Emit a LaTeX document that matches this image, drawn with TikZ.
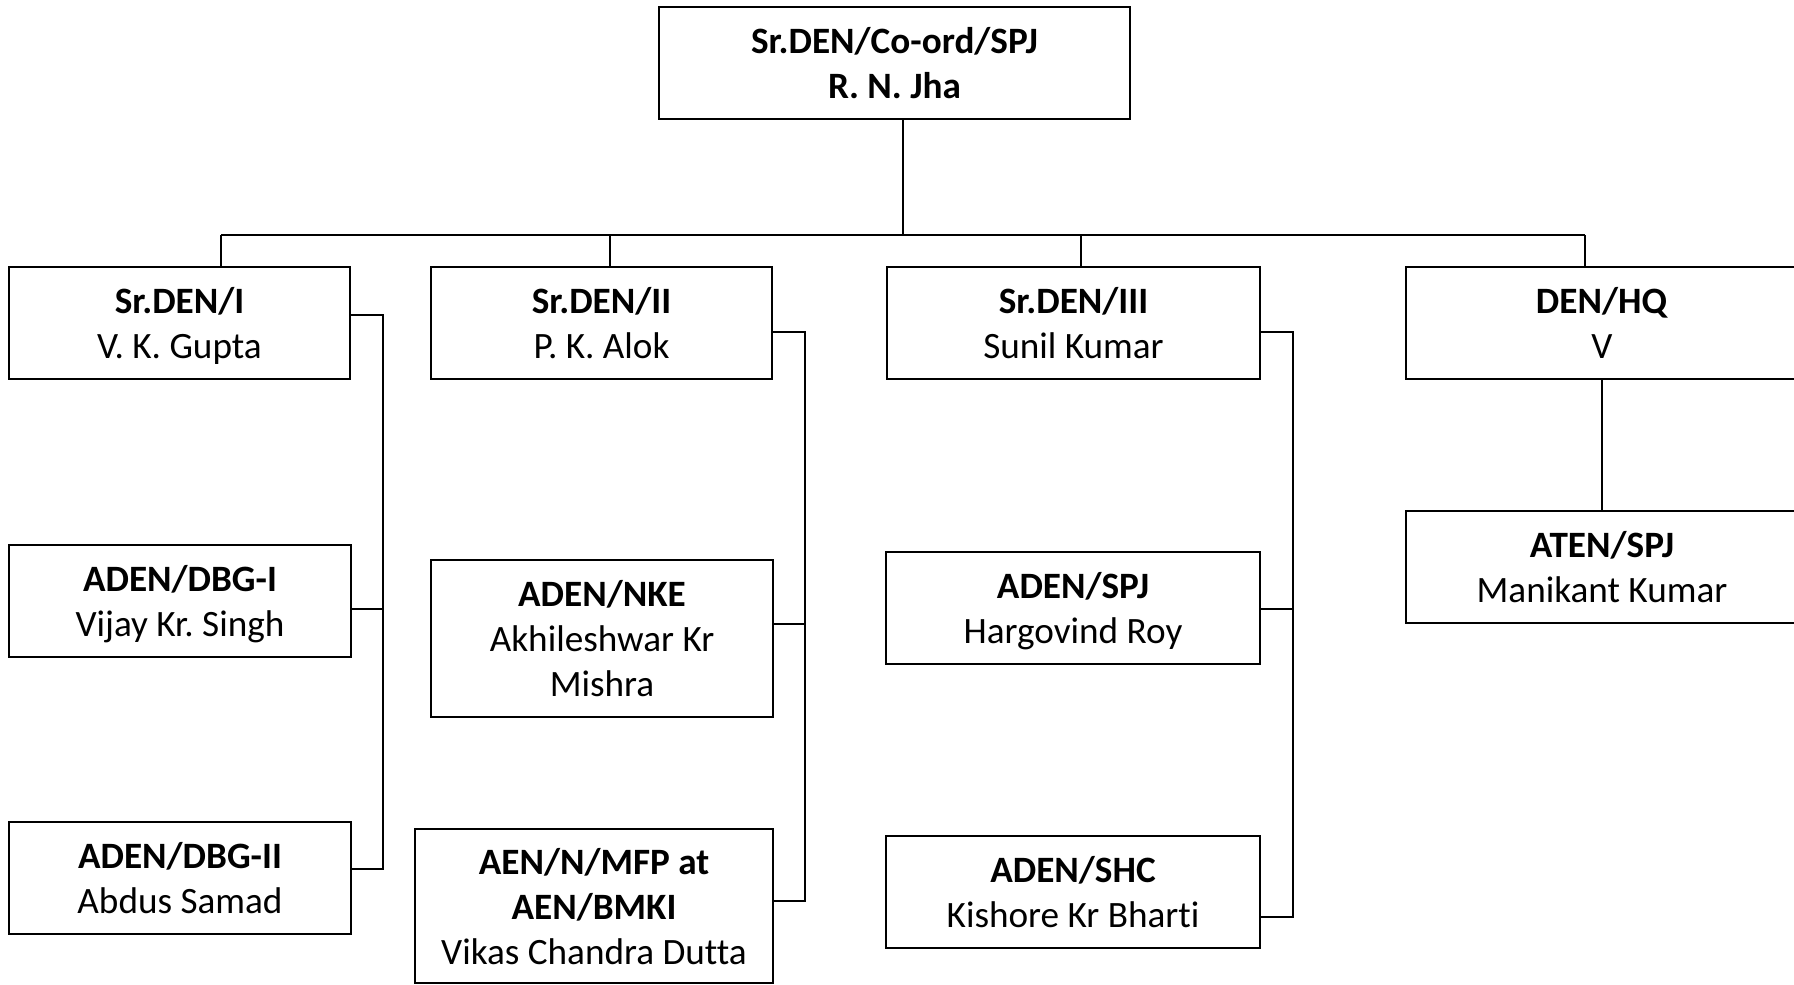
\documentclass[tikz,border=0pt]{standalone}
\usepackage{fontspec}
\setmainfont{Carlito}[Ligatures=NoCommon]
\tikzset{
  post/.style={draw=black, line width=1pt, fill=white, align=center,
    inner sep=0pt, text height=35.9pt, text depth=0pt,
    font=\fontsize{18.6}{22.5}\selectfont\frenchspacing},
  tall/.style={text height=58.4pt},
  link/.style={draw=black, line width=0.9pt},
}
\begin{document}
\begin{tikzpicture}[x=0.5pt, y=-0.5pt]
\useasboundingbox (0,0) rectangle (1794,985);

% head
\node[post, minimum width=235.5pt, minimum height=56pt] (top) at (894.5,63)
  {\textbf{Sr.DEN/Co-ord/SPJ}\\\textbf{R. N. Jha}};

% second tier
\node[post, minimum width=170.5pt, minimum height=56pt] (s1) at (179.5,323) {\textbf{Sr.DEN/I}\\V. K. Gupta};
\node[post, minimum width=170.5pt, minimum height=56pt] (s2) at (601.5,323) {\textbf{Sr.DEN/II}\\P. K. Alok};
\node[post, minimum width=186.5pt, minimum height=56pt] (s3) at (1073.5,323) {\textbf{Sr.DEN/III}\\Sunil Kumar};
\node[post, minimum width=196pt, minimum height=56pt] (hq) at (1602,323) {\textbf{DEN/HQ}\\V};

% third tier
\node[post, minimum width=171pt, minimum height=56pt] (a1) at (180,601) {\textbf{ADEN/DBG-I}\\Vijay Kr. Singh};
\node[post, minimum width=171pt, minimum height=56pt] (a2) at (180,878) {\textbf{ADEN/DBG-II}\\Abdus Samad};
\node[post, tall, minimum width=171pt, minimum height=78.5pt] (n1) at (602,638.5) {\textbf{ADEN/NKE}\\Akhileshwar Kr\\Mishra};
\node[post, tall, minimum width=179pt, minimum height=77pt] (n2) at (594,906) {\textbf{AEN/N/MFP at}\\\textbf{AEN/BMKI}\\Vikas Chandra Dutta};
\node[post, minimum width=187pt, minimum height=56pt] (t1) at (1073,608) {\textbf{ADEN/SPJ}\\Hargovind Roy};
\node[post, minimum width=187pt, minimum height=56pt] (t2) at (1073,892) {\textbf{ADEN/SHC}\\Kishore Kr Bharti};
\node[post, minimum width=196pt, minimum height=56pt] (aten) at (1602,567) {\textbf{ATEN/SPJ}\\Manikant Kumar};

% bus from the head to the second tier
\coordinate (bc) at (903,235);
\coordinate (b1) at (221,235);
\coordinate (b2) at (610,235);
\coordinate (b3) at (1081,235);
\coordinate (b4) at (1585,235);
\draw[link] (top.south -| bc) -- (bc);
\draw[link] (b1) -- (b4);
\draw[link] (b1) -- (b1 |- s1.north);
\draw[link] (b2) -- (b2 |- s2.north);
\draw[link] (b3) -- (b3 |- s3.north);
\draw[link] (b4) -- (b4 |- hq.north);

% column 1
\coordinate (k1) at (383,315);
\coordinate (k1a) at (383,609);
\coordinate (k1b) at (383,869);
\draw[link] (s1.east |- k1) -- (k1) -- (k1b) -- (a2.east |- k1b);
\draw[link] (k1a) -- (a1.east |- k1a);

% column 2
\coordinate (k2) at (805,332);
\coordinate (k2a) at (805,624);
\coordinate (k2b) at (805,901);
\draw[link] (s2.east |- k2) -- (k2) -- (k2b) -- (n2.east |- k2b);
\draw[link] (k2a) -- (n1.east |- k2a);

% column 3
\coordinate (k3) at (1293,332);
\coordinate (k3a) at (1293,609);
\coordinate (k3b) at (1293,917);
\draw[link] (s3.east |- k3) -- (k3) -- (k3b) -- (t2.east |- k3b);
\draw[link] (k3a) -- (t1.east |- k3a);

% column 4
\draw[link] (hq.south -| aten.north) -- (aten.north);
\end{tikzpicture}
\end{document}
